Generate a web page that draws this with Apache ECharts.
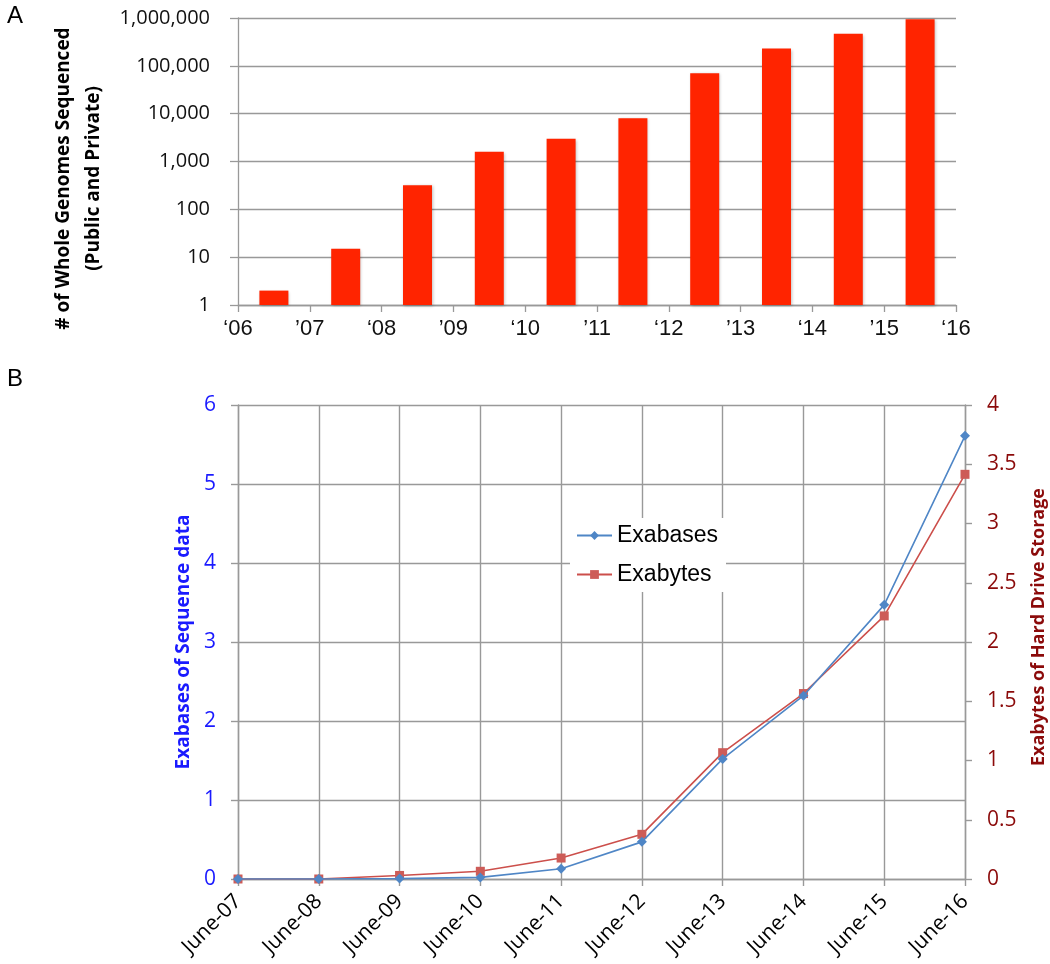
<!DOCTYPE html>
<html>
<head>
<meta charset="utf-8">
<script src="https://cdn.jsdelivr.net/npm/echarts@6/dist/echarts.min.js"></script>
<style>html,body{margin:0;padding:0;background:#fff}#c{width:1050px;height:964px}</style>
</head>
<body>
<div id="c"></div>
<script>
// ---- Panel A data ----
var barYears = ['2006','2007','2008','2009','2010','2011','2012','2013','2014','2015'];
var genomes = [2, 15, 320, 1600, 3000, 8000, 70000, 230000, 470000, 940000];
var topTickLabels = ['\u201806','\u201907','\u201808','\u201909','\u201810','\u201911','\u201812','\u201913','\u201814','\u201915','\u201816'];

// ---- Panel B data ----
var months = ['June-07','June-08','June-09','June-10','June-11','June-12','June-13','June-14','June-15','June-16'];
var exabases = [0, 0, 0.005, 0.02, 0.13, 0.47, 1.52, 2.32, 3.47, 5.61];
var exabytes = [0, 0, 0.03, 0.065, 0.177, 0.377, 1.066, 1.565, 2.22, 3.415];

var GRID = '#999999';
var chart = echarts.init(document.getElementById('c'), null, {renderer: 'canvas'});
chart.setOption({
  animation: false,
  backgroundColor: '#fff',
  title: [
    {text: 'A', left: 2, top: -1, textStyle: {fontFamily: 'Liberation Sans', fontSize: 24, fontWeight: 'normal', color: '#000'}},
    {text: 'B', left: 2, top: 362, textStyle: {fontFamily: 'Liberation Sans', fontSize: 24, fontWeight: 'normal', color: '#000'}}
  ],
  legend: {
    data: ['Exabases', 'Exabytes'],
    orient: 'vertical',
    left: 570, top: 518,
    backgroundColor: '#fff',
    padding: [6, 8, 6, 6],
    itemGap: 16,
    itemWidth: 35, itemHeight: 11,
    textStyle: {fontFamily: 'Liberation Sans', fontSize: 23, lineHeight: 23, color: '#000'}
  },
  grid: [
    {left: 238, top: 18, width: 718, height: 287, outerBoundsMode: 'none', containLabel: false},
    {left: 238, top: 405, width: 727, height: 474, outerBoundsMode: 'none', containLabel: false}
  ],
  xAxis: [
    {type: 'category', gridIndex: 0, data: barYears, boundaryGap: true,
     axisLine: {show: true, lineStyle: {color: GRID, width: 1.3}},
     axisTick: {show: true, length: 7, lineStyle: {color: GRID, width: 1.3}},
     axisLabel: {show: false}, splitLine: {show: false}},
    {type: 'value', gridIndex: 0, min: 0, max: 10, interval: 1, position: 'bottom',
     axisLine: {show: false}, axisTick: {show: false}, splitLine: {show: false},
     axisLabel: {margin: 13, fontFamily: 'Liberation Sans', fontSize: 22, color: '#111',
       formatter: function (v) { return topTickLabels[Math.round(v)]; }}},
    {type: 'category', gridIndex: 1, data: months, boundaryGap: false,
     axisLine: {show: true, lineStyle: {color: GRID, width: 1.4}},
     axisTick: {show: true, length: 7, lineStyle: {color: GRID, width: 1.4}},
     splitLine: {show: true, lineStyle: {color: GRID, width: 1.4}},
     axisLabel: {rotate: 45, margin: 19, fontFamily: 'Open Sans', fontSize: 21, color: '#000', interval: 0}}
  ],
  yAxis: [
    {type: 'log', gridIndex: 0, logBase: 10, min: 1, max: 1000000, splitNumber: 6,
     name: '# of Whole Genomes Sequenced\n(Public and Private)',
     nameLocation: 'middle', nameRotate: 90, nameGap: 128,
     nameTextStyle: {fontFamily: 'Open Sans', fontWeight: 'bold', fontSize: 19, lineHeight: 30, color: '#000', padding: [0, 34, 0, 0]},
     axisLine: {show: true, lineStyle: {color: GRID, width: 1.3}},
     axisTick: {show: true, length: 8, lineStyle: {color: GRID, width: 1.3}},
     splitLine: {show: true, lineStyle: {color: GRID, width: 1.3}},
     minorTick: {show: false}, minorSplitLine: {show: false},
     axisLabel: {margin: 28, fontFamily: 'Open Sans', fontSize: 20, color: '#111',
       formatter: function (v) { return Math.round(v).toLocaleString('en-US'); }}},
    {type: 'value', gridIndex: 1, min: 0, max: 6, interval: 1, position: 'left',
     name: 'Exabases of Sequence data', nameLocation: 'middle', nameRotate: 90, nameGap: 41,
     nameTextStyle: {fontFamily: 'Open Sans', fontWeight: 'bold', fontSize: 19, color: '#1a1aff'},
     axisLine: {show: true, lineStyle: {color: GRID, width: 1.4}},
     axisTick: {show: true, length: 7, lineStyle: {color: GRID, width: 1.4}},
     splitLine: {show: true, lineStyle: {color: GRID, width: 1.4}},
     axisLabel: {margin: 22, fontFamily: 'Open Sans', fontSize: 21, color: '#1a1aff'}},
    {type: 'value', gridIndex: 1, min: 0, max: 4, interval: 0.5, position: 'right',
     name: 'Exabytes of Hard Drive Storage', nameLocation: 'middle', nameRotate: 90, nameGap: 65,
     nameTextStyle: {fontFamily: 'Open Sans', fontWeight: 'bold', fontSize: 18, color: '#8b0a0a', padding: [0, 0, 0, 30]},
     axisLine: {show: true, lineStyle: {color: GRID, width: 1.4}},
     axisTick: {show: true, length: 7, lineStyle: {color: GRID, width: 1.4}},
     splitLine: {show: false},
     axisLabel: {margin: 22, fontFamily: 'Open Sans', fontSize: 21, color: '#8b0a0a'}}
  ],
  series: [
    {type: 'bar', name: 'Genomes', xAxisIndex: 0, yAxisIndex: 0, data: genomes,
     barWidth: 29,
     itemStyle: {color: '#ff2400', shadowColor: 'rgba(0,0,0,0.25)', shadowBlur: 3, shadowOffsetX: 1, shadowOffsetY: 1}},
    {type: 'line', name: 'Exabases', xAxisIndex: 2, yAxisIndex: 1, data: exabases,
     symbol: 'diamond', symbolSize: 10, z: 4,
     lineStyle: {color: '#4f86c6', width: 1.6},
     itemStyle: {color: '#4f86c6'}},
    {type: 'line', name: 'Exabytes', xAxisIndex: 2, yAxisIndex: 2, data: exabytes,
     symbol: 'rect', symbolSize: 9, z: 3,
     lineStyle: {color: '#cc4f4b', width: 1.6},
     itemStyle: {color: '#cd5c58'}}
  ]
});
</script>
</body>
</html>
